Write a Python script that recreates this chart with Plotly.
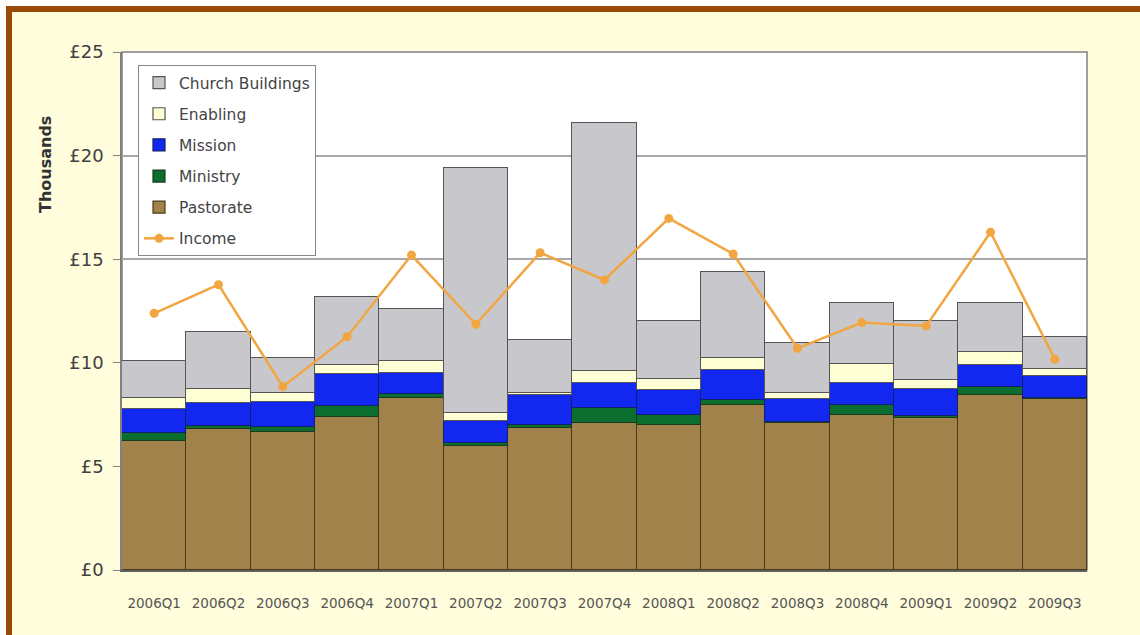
import plotly.graph_objects as go

quarters = ["2006Q1", "2006Q2", "2006Q3", "2006Q4", "2007Q1", "2007Q2", "2007Q3", "2007Q4",
            "2008Q1", "2008Q2", "2008Q3", "2008Q4", "2009Q1", "2009Q2", "2009Q3"]
pastorate = [6.23, 6.80, 6.64, 7.37, 8.29, 6.00, 6.84, 7.11, 7.00, 7.96, 7.08, 7.48, 7.32, 8.45, 8.24]
ministry = [0.37, 0.17, 0.28, 0.54, 0.20, 0.14, 0.16, 0.69, 0.48, 0.24, 0.08, 0.48, 0.11, 0.37, 0.08]
mission = [1.17, 1.07, 1.20, 1.53, 1.00, 1.05, 1.45, 1.24, 1.21, 1.45, 1.08, 1.05, 1.29, 1.07, 1.04]
enabling = [0.52, 0.69, 0.44, 0.45, 0.60, 0.37, 0.08, 0.56, 0.51, 0.57, 0.29, 0.92, 0.45, 0.62, 0.33]
church_buildings = [1.81, 2.74, 1.69, 3.30, 2.51, 11.83, 2.57, 11.99, 2.83, 4.15, 2.41, 2.97, 2.86, 2.39, 1.57]
income = [12.39, 13.77, 8.85, 11.26, 15.20, 11.86, 15.31, 14.00, 16.97, 15.25, 10.70, 11.94, 11.78, 16.30, 10.17]
y_ticks = [0, 5, 10, 15, 20, 25]
y_tick_labels = ["£0", "£5", "£10", "£15", "£20", "£25"]

W, H = 1140, 635
ML, MR, MT, MB = 122, W - 1087, 52, H - 570
pw, ph = W - ML - MR, H - MT - MB


def px(x):
    return (x - ML) / pw


def py(y):
    return (H - MB - y) / ph


FONT = "DejaVu Sans, Verdana, sans-serif"

fig = go.Figure()

bar_series = [
    ("Pastorate", pastorate, "#A0824A", "#4a3a18", 5),
    ("Ministry", ministry, "#0B6E2E", "#1e3a1e", 4),
    ("Mission", mission, "#1228F0", "#10206a", 3),
    ("Enabling", enabling, "#FFFFD6", "#555555", 2),
    ("Church Buildings", church_buildings, "#C8C8CC", "#555555", 1),
]
for name, vals, col, lcol, rank in bar_series:
    fig.add_trace(go.Bar(
        x=quarters, y=vals, name=name, marker=dict(color=col, line=dict(color=lcol, width=1.2)),
        legendrank=rank, legendgroup=name,
    ))

fig.add_trace(go.Scatter(
    x=quarters, y=income, name="Income", mode="lines+markers",
    line=dict(color="#F2A541", width=2.5), marker=dict(color="#F2A541", size=9),
    legendrank=6, legendgroup="Income",
))

shapes = [
    # cream background
    dict(type="rect", xref="paper", yref="paper", x0=px(12), x1=px(W), y0=py(H), y1=py(12),
         fillcolor="#FFFDDC", line=dict(width=0), layer="below"),
    # plot area white
    dict(type="rect", xref="paper", yref="paper", x0=0, x1=1, y0=0, y1=1,
         fillcolor="white", line=dict(color="#808080", width=1.5), layer="below"),
    # brown border top and left
    dict(type="rect", xref="paper", yref="paper", x0=px(6), x1=px(W), y0=py(12), y1=py(6),
         fillcolor="#9A4A08", line=dict(width=0), layer="above"),
    dict(type="rect", xref="paper", yref="paper", x0=px(6), x1=px(12), y0=py(H), y1=py(6),
         fillcolor="#9A4A08", line=dict(width=0), layer="above"),
]

fig.update_layout(
    width=W, height=H,
    margin=dict(l=ML, r=MR, t=MT, b=MB),
    paper_bgcolor="white",
    plot_bgcolor="rgba(0,0,0,0)",
    barmode="stack",
    bargap=0,
    shapes=shapes,
    font=dict(family=FONT, color="#333333"),
    legend=dict(
        x=px(138), y=py(65), xanchor="left", yanchor="top",
        bgcolor="white", bordercolor="#888888", borderwidth=1,
        traceorder="grouped", tracegroupgap=8,
        font=dict(size=15.5, color="#444444"),
        itemwidth=30,
    ),
    showlegend=True,
    annotations=[dict(
        text="<b>Thousands</b>", xref="paper", yref="paper", x=px(45), y=py(165),
        textangle=-90, showarrow=False, font=dict(size=16, color="#333333", family=FONT),
        xanchor="center", yanchor="middle",
    )],
)

fig.update_yaxes(
    range=[0, 25], tickvals=y_ticks, ticktext=y_tick_labels,
    showgrid=True, gridcolor="#A8A8A8", gridwidth=1.5,
    showline=True, linecolor="#808080", linewidth=1.5,
    ticks="outside", ticklen=7, tickcolor="#808080",
    tickfont=dict(size=18, color="#404040"),
    ticklabelstandoff=6,
    zeroline=False,
)
fig.update_xaxes(
    range=[-0.5, len(quarters) - 0.5],
    showline=True, linecolor="#606060", linewidth=1.5,
    ticks="", tickfont=dict(size=13.5, color="#555555"),
    ticklabelstandoff=20,
)

fig.write_html("out.html", config={"displayModeBar": False},
               post_script="document.body.style.margin='0px';document.body.style.overflow='hidden';")
